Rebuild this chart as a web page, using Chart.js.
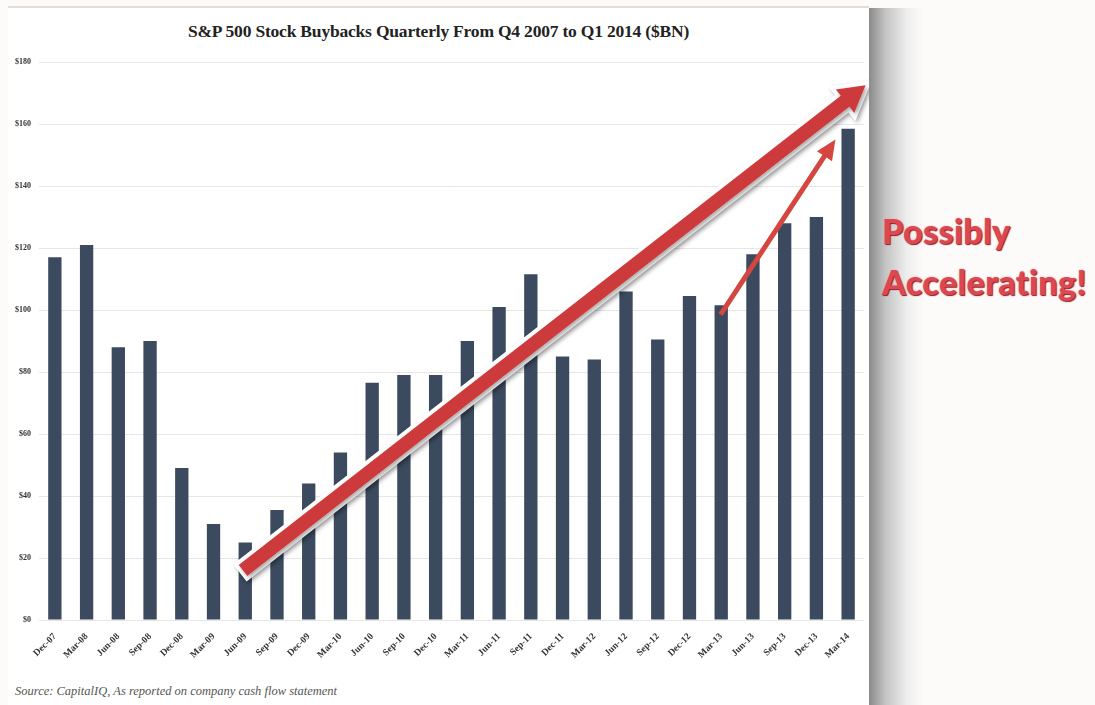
<!DOCTYPE html>
<html>
<head>
<meta charset="utf-8">
<script src="https://cdn.jsdelivr.net/npm/chart.js@4/dist/chart.umd.min.js"></script>
<style>
  html, body { margin: 0; padding: 0; background: #fdfbfa; }
  body { width: 1095px; height: 705px; position: relative; overflow: hidden; }
  #panel { position: absolute; left: 8px; top: 6px; width: 861px; height: 699px; background: #fff; border-top: 2px solid #e2ddd8; }
  #shade { position: absolute; left: 869px; top: 8px; width: 55px; height: 697px;
           background: linear-gradient(to right, #8a8a8a, #c4c4c4 30%, #efefef 70%, rgba(253,251,250,0)); }
  #wrap { position: absolute; left: 8px; top: 8px; width: 861px; height: 660px; }
  #title { position: absolute; left: 8px; width: 861px; top: 21px; text-align: center;
           font: bold 17.5px "Liberation Serif", serif; color: #222; letter-spacing: -0.2px; }
  #source { position: absolute; left: 15px; top: 684px; font: italic 12.5px "Liberation Serif", serif; color: #555; }
  #note { position: absolute; left: 882px; top: 205px; font: 900 34px Lato, sans-serif; line-height: 51px;
          color: #dc4852; text-shadow: 1px 1px 1px #8c1c24, 0 0 2px #f3a7a7; letter-spacing: 0.4px; }
</style>
</head>
<body>
<div id="panel"></div>
<div id="shade"></div>
<div id="title">S&amp;P 500 Stock Buybacks Quarterly From Q4 2007 to Q1 2014 ($BN)</div>
<div id="wrap"><canvas id="chart"></canvas></div>
<div id="source">Source: CapitalIQ, As reported on company cash flow statement</div>
<div id="note">Possibly<br>Accelerating!</div>
<script>
const quarters = ['Dec-07', 'Mar-08', 'Jun-08', 'Sep-08', 'Dec-08', 'Mar-09', 'Jun-09', 'Sep-09',
  'Dec-09', 'Mar-10', 'Jun-10', 'Sep-10', 'Dec-10', 'Mar-11', 'Jun-11', 'Sep-11', 'Dec-11',
  'Mar-12', 'Jun-12', 'Sep-12', 'Dec-12', 'Mar-13', 'Jun-13', 'Sep-13', 'Dec-13', 'Mar-14'];
const buybacks = [117, 121, 88, 90, 49, 31, 25, 35.5, 44, 54, 76.5, 79, 79, 90, 101, 111.5, 85,
  84, 106, 90.5, 104.5, 101.5, 118, 128, 130, 158.5];
const yTicks = [0, 20, 40, 60, 80, 100, 120, 140, 160, 180];

// trend arrows, given as [category index, $BN] pairs
const bigArrow = [[5.93, 16], [25.55, 172.5]];
const smallArrow = [[20.98, 98.5], [24.6, 155]];

function arrow(ctx, x1, y1, x2, y2, shaft, head, headLen) {
  const dx = x2 - x1, dy = y2 - y1;
  const len = Math.hypot(dx, dy);
  const ux = dx / len, uy = dy / len, nx = -uy, ny = ux;
  const bx = x2 - ux * headLen, by = y2 - uy * headLen;
  ctx.beginPath();
  ctx.moveTo(x1 + nx * shaft / 2, y1 + ny * shaft / 2);
  ctx.lineTo(bx + nx * shaft / 2, by + ny * shaft / 2);
  ctx.lineTo(bx + nx * head / 2, by + ny * head / 2);
  ctx.lineTo(x2, y2);
  ctx.lineTo(bx - nx * head / 2, by - ny * head / 2);
  ctx.lineTo(bx - nx * shaft / 2, by - ny * shaft / 2);
  ctx.lineTo(x1 - nx * shaft / 2, y1 - ny * shaft / 2);
  ctx.closePath();
}

const arrowPlugin = {
  id: 'arrows',
  afterDatasetsDraw(chart) {
    const ctx = chart.ctx;
    const xs = chart.scales.x, ys = chart.scales.y;
    const step = xs.getPixelForValue(1) - xs.getPixelForValue(0);
    const px = p => [xs.getPixelForValue(0) + p[0] * step, ys.getPixelForValue(p[1])];
    const a1 = px(bigArrow[0]), a2 = px(bigArrow[1]);
    const b1 = px(smallArrow[0]), b2 = px(smallArrow[1]);
    ctx.save();
    ctx.lineJoin = 'miter';
    ctx.shadowColor = 'rgba(0,0,0,0.35)';
    ctx.shadowBlur = 4;
    ctx.shadowOffsetX = 2;
    ctx.shadowOffsetY = 2;
    arrow(ctx, a1[0], a1[1], a2[0], a2[1], 14, 30, 26);
    ctx.fillStyle = '#ffffff';
    ctx.strokeStyle = '#ffffff';
    ctx.lineWidth = 8;
    ctx.stroke();
    ctx.fill();
    ctx.shadowColor = 'transparent';
    ctx.fillStyle = '#cc3a3b';
    ctx.fill();
    arrow(ctx, b1[0], b1[1], b2[0], b2[1], 5, 18, 20);
    ctx.fillStyle = '#d4463f';
    ctx.fill();
    ctx.restore();
  }
};

new Chart(document.getElementById('chart'), {
  type: 'bar',
  data: {
    labels: quarters,
    datasets: [{
      label: 'Buybacks ($BN)',
      data: buybacks,
      backgroundColor: '#3b4a5e',
      categoryPercentage: 1,
      barPercentage: 0.42
    }]
  },
  options: {
    responsive: true,
    maintainAspectRatio: false,
    animation: false,
    layout: { padding: { top: 54, right: 5, left: 0, bottom: 0 } },
    plugins: {
      legend: { display: false },
      tooltip: { enabled: false }
    },
    scales: {
      x: {
        grid: { display: false },
        border: { display: false },
        ticks: {
          minRotation: 45, maxRotation: 45, autoSkip: false,
          color: '#333', font: { family: 'Liberation Serif', size: 9.5, weight: 'bold' }
        },
        afterFit(scale) { scale.height = 48; }
      },
      y: {
        min: 0, max: 180,
        afterBuildTicks(scale) { scale.ticks = yTicks.map(v => ({ value: v })); },
        grid: { color: '#e6e6e6', drawTicks: false },
        border: { display: false },
        ticks: {
          padding: 8,
          color: '#333', font: { family: 'Liberation Serif', size: 8, weight: 'bold' },
          callback: v => '$' + v
        },
        afterFit(scale) { scale.width = 31; }
      }
    }
  },
  plugins: [arrowPlugin]
});
</script>
</body>
</html>
